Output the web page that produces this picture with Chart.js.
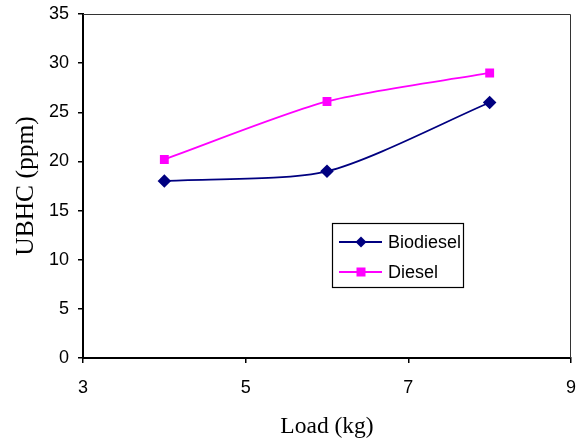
<!DOCTYPE html>
<html>
<head>
<meta charset="utf-8">
<script src="https://cdn.jsdelivr.net/npm/chart.js@4"></script>
<style>
html,body{margin:0;padding:0;background:#fff;}
#wrap{width:582px;height:441px;position:relative;}
</style>
</head>
<body>
<div id="wrap"><canvas id="c" width="582" height="441"></canvas></div>
<script>
const loads = [4, 6, 8];
const biodiesel = [18, 19, 26];
const diesel = [20.2, 26.1, 29];
const seriesNames = ['Biodiesel', 'Diesel'];
const xTicks = [3, 5, 7, 9];
const yTicks = [0, 5, 10, 15, 20, 25, 30, 35];
const xTitle = 'Load (kg)';
const yTitle = 'UBHC (ppm)';

const sans = '"Liberation Sans", Arial, sans-serif';
const serif = '"Liberation Serif", "Times New Roman", serif';

function zeroPad(s) { s.paddingTop = 0; s.paddingBottom = 0; s.paddingLeft = 0; s.paddingRight = 0; }

const frame = {
  id: 'frame',
  afterDatasetsDraw(chart) {
    const {ctx, chartArea: a} = chart;
    ctx.save();
    ctx.strokeStyle = '#333';
    ctx.lineWidth = 1;
    ctx.beginPath();
    ctx.moveTo(a.left, a.top + 0.5);
    ctx.lineTo(a.right - 0.5, a.top + 0.5);
    ctx.lineTo(a.right - 0.5, a.bottom);
    ctx.stroke();
    ctx.restore();
  }
};

const boxLegend = {
  id: 'boxLegend',
  afterDraw(chart) {
    const {ctx} = chart;
    const x0 = 332, y0 = 223, w = 131, h = 64;
    ctx.save();
    ctx.fillStyle = '#fff';
    ctx.fillRect(x0, y0, w, h);
    ctx.strokeStyle = '#000';
    ctx.lineWidth = 1.2;
    ctx.strokeRect(x0 + 0.5, y0 + 0.5, w, h);
    chart.data.datasets.forEach((ds, i) => {
      const cy = y0 + 19 + i * 30;
      ctx.strokeStyle = ds.borderColor;
      ctx.lineWidth = 1.8;
      ctx.beginPath();
      ctx.moveTo(x0 + 7, cy);
      ctx.lineTo(x0 + 50, cy);
      ctx.stroke();
      ctx.fillStyle = ds.pointBackgroundColor;
      const mx = x0 + 29;
      if (ds.pointStyle === 'rectRot') {
        ctx.beginPath();
        ctx.moveTo(mx, cy - 5.5); ctx.lineTo(mx + 5.5, cy); ctx.lineTo(mx, cy + 5.5); ctx.lineTo(mx - 5.5, cy);
        ctx.closePath(); ctx.fill();
      } else {
        ctx.fillRect(mx - 4.5, cy - 4.5, 9, 9);
      }
      ctx.fillStyle = '#000';
      ctx.font = '18px ' + sans;
      ctx.textBaseline = 'middle';
      ctx.textAlign = 'left';
      ctx.fillText(ds.label, x0 + 56, cy + 1);
    });
    ctx.restore();
  }
};

new Chart(document.getElementById('c'), {
  type: 'line',
  data: {
    datasets: [
      {
        label: seriesNames[0],
        data: loads.map((x, i) => ({x, y: biodiesel[i]})),
        borderColor: '#000080',
        backgroundColor: '#000080',
        pointBackgroundColor: '#000080',
        pointBorderColor: '#000080',
        pointStyle: 'rectRot',
        pointRadius: 5.5,
        borderWidth: 1.8,
        tension: 0.25
      },
      {
        label: seriesNames[1],
        data: loads.map((x, i) => ({x, y: diesel[i]})),
        borderColor: '#FF00FF',
        backgroundColor: '#FF00FF',
        pointBackgroundColor: '#FF00FF',
        pointBorderColor: '#FF00FF',
        pointStyle: 'rect',
        pointRadius: 5,
        borderWidth: 1.8,
        tension: 0.25
      }
    ]
  },
  options: {
    responsive: false,
    animation: false,
    events: [],
    layout: {padding: {left: 0, right: 11, top: 14, bottom: 0}},
    plugins: {legend: {display: false}, tooltip: {enabled: false}},
    scales: {
      x: {
        type: 'linear',
        min: xTicks[0], max: xTicks[xTicks.length - 1],
        afterBuildTicks(s) { s.ticks = xTicks.map(v => ({value: v})); },
        afterFit(s) { s.height = 83; zeroPad(s); },
        grid: {drawOnChartArea: false, drawTicks: true, tickLength: 5, color: '#000', lineWidth: 1.5},
        border: {color: '#000', width: 2},
        ticks: {color: '#000', font: {family: sans, size: 18}, padding: 14, maxRotation: 0},
        title: {display: true, text: xTitle, color: '#000', font: {family: serif, size: 23.5}, padding: 0}
      },
      y: {
        type: 'linear',
        min: yTicks[0], max: yTicks[yTicks.length - 1],
        afterBuildTicks(s) { s.ticks = yTicks.map(v => ({value: v})); },
        afterFit(s) { s.width = 83; zeroPad(s); },
        grid: {drawOnChartArea: false, drawTicks: true, tickLength: 5, color: '#000', lineWidth: 1.5},
        border: {color: '#000', width: 2},
        ticks: {color: '#000', font: {family: sans, size: 18}, padding: 9},
        title: {display: true, text: yTitle, color: '#000', font: {family: serif, size: 25.5}, padding: {top: 11, bottom: 0}}
      }
    }
  },
  plugins: [frame, boxLegend]
});
</script>
</body>
</html>
